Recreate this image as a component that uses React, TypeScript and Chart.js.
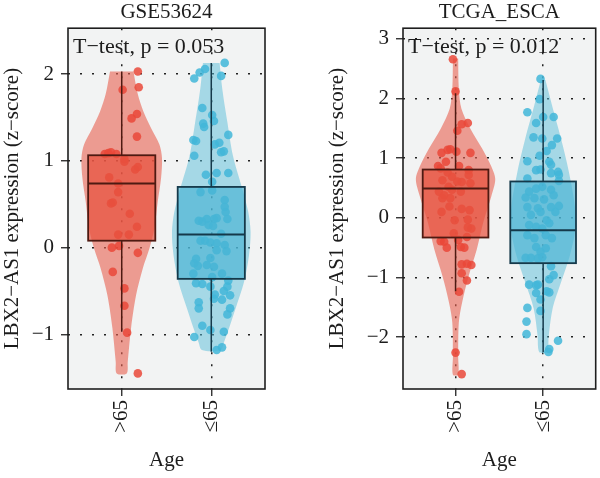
import { useEffect, useRef } from "react";
import { Chart, registerables } from "chart.js";

Chart.register(...registerables);

const FONT = '"Liberation Serif", "Times New Roman", serif';
const TEXT = "#1c1c1c";

// ---------- shared labels ----------
const groupLabels = [">65", "≤65"];
const yAxisTitle = "LBX2−AS1 expression (z−score)";
const xAxisTitle = "Age";

// ---------- GSE53624 ----------
const gseTitle = "GSE53624";
const gseTest = "T−test, p = 0.053";
const gseYTicks = [-1, 0, 1, 2];
const gseYRange = [-1.63, 2.53];

const gseOldValues = [2.03, 1.85, 1.82, 1.54, 1.49, 1.28, 1.08, 1.1, 1.08, 1.09, 1.02, 0.99, 0.93, 0.9, 0.81, 0.74, 0.64, 0.51, 0.52, 0.39, 0.24, 0.15, 0.15, 0.0, 0.02, -0.06, -0.28, -0.47, -0.67, -0.98, -1.45];
const gseOldJitter = [0.18, 0.19, 0.01, 0.17, 0.11, 0.17, -0.19, -0.12, -0.06, -0.15, 0.03, 0.03, 0.18, 0.15, -0.14, -0.04, -0.04, -0.12, -0.1, 0.09, 0.17, -0.04, 0.08, -0.11, -0.03, 0.18, -0.1, 0.03, 0.03, 0.06, 0.18];
const gseOldBox = [-0.97, 0.08, 0.74, 1.065, 2.03]; // whisker low, q1, median, q3, whisker high
const gseOldLevels = [2.03, 1.77, 1.57, 1.38, 1.19, 1.03, 0.8, 0.53, 0.22, -0.01, -0.24, -0.55, -0.93, -1.32, -1.45];
const gseOldHalfWidth = [0.131, 0.179, 0.242, 0.327, 0.421, 0.45, 0.439, 0.402, 0.365, 0.309, 0.235, 0.16, 0.104, 0.067, 0.056];

const gseYoungValues = [2.13, 2.02, 2.06, 1.95, 1.98, 1.61, 1.53, 1.46, 1.43, 1.39, 1.3, 1.24, 1.23, 1.21, 1.19, 1.11, 1.1, 1.06, 0.86, 0.86, 0.84, 0.76, 0.66, 0.64, 0.55, 0.47, 0.41, 0.33, 0.31, 0.3, 0.33, 0.33, 0.34, 0.25, 0.26, 0.16, 0.08, 0.08, 0.06, 0.05, 0.03, -0.03, -0.04, -0.13, -0.12, -0.18, -0.21, -0.2, -0.22, -0.3, -0.3, -0.34, -0.41, -0.42, -0.45, -0.38, -0.45, -0.54, -0.5, -0.55, -0.6, -0.59, -0.63, -0.7, -0.7, -0.77, -0.9, -0.95, -0.97, -1.03, -1.18, -1.15];
const gseYoungJitter = [0.15, -0.13, -0.07, -0.19, 0.11, -0.1, 0.01, 0.03, -0.09, -0.08, 0.19, -0.2, -0.17, 0.09, 0.04, 0.14, 0.11, -0.19, 0.19, 0.06, -0.06, 0.01, 0.01, -0.12, 0.15, 0.15, 0.16, 0.18, -0.14, -0.1, -0.05, 0.03, 0.06, 0.02, -0.03, 0.11, -0.12, -0.07, -0.01, 0.06, 0.15, 0.06, 0.17, -0.17, -0.01, -0.19, -0.15, -0.05, 0.03, -0.2, 0.12, 0.01, -0.17, -0.1, -0.01, 0.19, 0.18, 0.04, 0.14, 0.21, 0.12, 0.03, -0.14, -0.14, 0.21, 0.18, -0.1, -0.01, 0.14, -0.19, 0.06, 0.12];
const gseYoungBox = [-1.2, -0.36, 0.15, 0.7, 2.13];
const gseYoungLevels = [2.13, 1.83, 1.45, 1.06, 0.68, 0.41, 0.18, -0.09, -0.4, -0.7, -0.93, -1.09, -1.18];
const gseYoungHalfWidth = [0.093, 0.123, 0.179, 0.242, 0.346, 0.413, 0.439, 0.421, 0.365, 0.272, 0.198, 0.142, 0.104];

// ---------- TCGA_ESCA ----------
const tcgaTitle = "TCGA_ESCA";
const tcgaTest = "T−test, p = 0.012";
const tcgaYTicks = [-2, -1, 0, 1, 2, 3];
const tcgaYRange = [-2.87, 3.18];

const tcgaOldValues = [2.66, 2.12, 1.57, 1.59, 1.46, 1.09, 1.14, 1.15, 1.11, 1.09, 0.94, 0.87, 0.83, 0.87, 0.8, 0.76, 0.69, 0.72, 0.58, 0.63, 0.52, 0.61, 0.6, 0.44, 0.38, 0.47, 0.44, 0.33, 0.33, 0.19, 0.1, 0.15, 0.13, -0.04, -0.03, -0.16, -0.18, -0.26, -0.32, -0.39, -0.4, -0.37, -0.49, -0.5, -0.5, -0.78, -0.77, -0.79, -0.93, -1.05, -1.24, -2.26, -2.62];
const tcgaOldJitter = [-0.03, 0.0, 0.07, 0.14, 0.02, -0.16, -0.09, -0.06, 0.01, 0.17, -0.11, -0.2, -0.17, 0.04, 0.15, -0.09, -0.04, 0.15, 0.17, -0.15, -0.08, 0.02, 0.07, -0.19, -0.13, -0.04, 0.06, -0.15, -0.06, -0.07, -0.16, 0.07, 0.16, -0.01, 0.14, 0.14, 0.18, -0.02, 0.13, -0.17, -0.13, 0.03, 0.06, -0.1, 0.1, 0.07, 0.13, 0.18, 0.07, 0.13, 0.04, 0.0, 0.07];
const tcgaOldBox = [-1.23, -0.33, 0.49, 0.81, 2.09];
const tcgaOldLevels = [2.67, 2.17, 1.83, 1.5, 1.16, 0.88, 0.65, 0.37, -0.08, -0.53, -0.98, -1.42, -1.76, -2.32, -2.63];
const tcgaOldHalfWidth = [0.03, 0.037, 0.067, 0.168, 0.305, 0.402, 0.453, 0.41, 0.316, 0.242, 0.149, 0.075, 0.037, 0.03, 0.03];

const tcgaYoungValues = [2.33, 1.99, 1.77, 1.69, 1.69, 1.59, 1.33, 1.35, 1.33, 1.22, 1.12, 1.04, 0.95, 0.94, 0.89, 0.8, 0.81, 0.77, 0.75, 0.72, 0.66, 0.62, 0.44, 0.49, 0.52, 0.47, 0.34, 0.33, 0.31, 0.38, 0.18, 0.16, 0.18, 0.2, 0.05, 0.1, -0.04, 0.1, -0.12, -0.15, -0.18, -0.09, -0.29, -0.34, -0.29, -0.34, -0.49, -0.51, -0.57, -0.67, -0.67, -0.68, -0.66, -0.81, -0.96, -1.12, -1.12, -1.13, -1.03, -1.23, -1.25, -1.26, -1.51, -1.56, -1.37, -1.74, -1.95, -2.06, -2.2, -2.25];
const tcgaYoungJitter = [-0.03, -0.04, -0.18, 0.12, 0.0, -0.08, 0.16, -0.11, -0.01, 0.1, 0.04, -0.04, -0.18, 0.07, 0.09, -0.08, -0.03, 0.17, 0.09, 0.18, -0.18, 0.18, -0.16, -0.08, -0.01, 0.09, -0.2, -0.1, 0.01, 0.12, -0.18, -0.06, 0.09, 0.18, -0.14, -0.03, 0.04, 0.14, -0.16, -0.08, -0.01, 0.07, -0.18, -0.1, 0.03, 0.1, -0.08, 0.03, -0.03, -0.2, -0.14, -0.06, -0.01, 0.09, 0.12, -0.16, -0.06, -0.08, 0.07, 0.04, 0.07, -0.08, -0.18, -0.03, -0.03, -0.19, -0.19, 0.17, 0.07, 0.06];
const tcgaYoungBox = [-2.25, -0.76, -0.21, 0.61, 2.31];
const tcgaYoungLevels = [2.31, 1.89, 1.33, 0.77, 0.21, -0.18, -0.63, -1.08, -1.52, -1.97, -2.25];
const tcgaYoungHalfWidth = [0.026, 0.101, 0.204, 0.294, 0.361, 0.369, 0.305, 0.204, 0.108, 0.064, 0.045];

// ---------- styles ----------
const RED = {
  violin: "rgba(231, 96, 80, 0.6)",
  boxFill: "rgba(232, 82, 62, 0.72)",
  point: "rgba(234, 72, 56, 0.85)",
  line: "#4e1a12",
};
const BLUE = {
  violin: "rgba(88, 190, 218, 0.5)",
  boxFill: "rgba(72, 180, 212, 0.65)",
  point: "rgba(66, 182, 216, 0.85)",
  line: "#15394a",
};
const PANEL_BG = "#f2f3f3";
const BOX_HALF = 0.375;

type Group = {
  values: number[];
  jitter: number[];
  box: number[];
  levels: number[];
  halfWidth: number[];
  style: typeof RED;
};

type Panel = {
  title: string;
  test: string;
  yTicks: number[];
  yRange: number[];
  groups: Group[];
  yAxisWidth: number;
  yTitleGap: number;
  padRight: number;
};

const panels: Panel[] = [
  {
    title: gseTitle,
    test: gseTest,
    yTicks: gseYTicks,
    yRange: gseYRange,
    groups: [
      { values: gseOldValues, jitter: gseOldJitter, box: gseOldBox, levels: gseOldLevels, halfWidth: gseOldHalfWidth, style: RED },
      { values: gseYoungValues, jitter: gseYoungJitter, box: gseYoungBox, levels: gseYoungLevels, halfWidth: gseYoungHalfWidth, style: BLUE },
    ],
    yAxisWidth: 68,
    yTitleGap: 0,
    padRight: 35,
  },
  {
    title: tcgaTitle,
    test: tcgaTest,
    yTicks: tcgaYTicks,
    yRange: tcgaYRange,
    groups: [
      { values: tcgaOldValues, jitter: tcgaOldJitter, box: tcgaOldBox, levels: tcgaOldLevels, halfWidth: tcgaOldHalfWidth, style: RED },
      { values: tcgaYoungValues, jitter: tcgaYoungJitter, box: tcgaYoungBox, levels: tcgaYoungLevels, halfWidth: tcgaYoungHalfWidth, style: BLUE },
    ],
    yAxisWidth: 103,
    yTitleGap: 25,
    padRight: 1,
  },
];

// Closed violin outline: right side top-to-bottom, then left side bottom-to-top.
function violinOutline(center: number, levels: number[], halfWidth: number[]) {
  const right = levels.map((y, i) => ({ x: center + halfWidth[i], y }));
  const left = levels.map((y, i) => ({ x: center - halfWidth[i], y })).reverse();
  return [...right, ...left];
}

const minusLabel = (v: number) => (v < 0 ? "\u2212" + Math.abs(v) : String(v));

function buildChart(canvas: HTMLCanvasElement, panel: Panel) {
  const violins = panel.groups.map((g, i) => ({
    data: violinOutline(i + 1, g.levels, g.halfWidth),
    showLine: true,
    fill: "shape",
    tension: 0.3,
    backgroundColor: g.style.violin,
    borderColor: "rgba(0,0,0,0)",
    borderWidth: 0,
    pointRadius: 0,
    order: 3,
  }));
  const points = panel.groups.map((g, i) => ({
    data: g.values.map((v, k) => ({ x: i + 1 + g.jitter[k], y: v })),
    showLine: false,
    backgroundColor: g.style.point,
    borderColor: "rgba(0,0,0,0)",
    borderWidth: 0,
    pointRadius: 4.3,
    order: 1,
  }));

  const panelPlugin = {
    id: "panelDecor",
    beforeDraw(chart: any) {
      const { ctx, chartArea: a } = chart;
      ctx.save();
      ctx.fillStyle = PANEL_BG;
      ctx.fillRect(a.left, a.top, a.right - a.left, a.bottom - a.top);
      ctx.restore();
    },
    afterDatasetsDraw(chart: any) {
      const { ctx, scales } = chart;
      const xs = scales.x;
      const ys = scales.y;
      panel.groups.forEach((g, i) => {
        const c = i + 1;
        const [lo, q1, med, q3, hi] = g.box;
        const xc = xs.getPixelForValue(c);
        const xl = xs.getPixelForValue(c - BOX_HALF);
        const xr = xs.getPixelForValue(c + BOX_HALF);
        const yHi = ys.getPixelForValue(hi);
        const yQ3 = ys.getPixelForValue(q3);
        const yMed = ys.getPixelForValue(med);
        const yQ1 = ys.getPixelForValue(q1);
        const yLo = ys.getPixelForValue(lo);
        ctx.save();
        ctx.strokeStyle = g.style.line;
        ctx.lineWidth = 1.5;
        ctx.beginPath();
        ctx.moveTo(xc, yHi);
        ctx.lineTo(xc, yQ3);
        ctx.moveTo(xc, yQ1);
        ctx.lineTo(xc, yLo);
        ctx.stroke();
        ctx.fillStyle = g.style.boxFill;
        ctx.fillRect(xl, yQ3, xr - xl, yQ1 - yQ3);
        ctx.lineWidth = 1.8;
        ctx.strokeRect(xl, yQ3, xr - xl, yQ1 - yQ3);
        ctx.lineWidth = 2;
        ctx.beginPath();
        ctx.moveTo(xl, yMed);
        ctx.lineTo(xr, yMed);
        ctx.stroke();
        ctx.restore();
      });
    },
    afterDraw(chart: any) {
      const { ctx, chartArea: a } = chart;
      ctx.save();
      ctx.strokeStyle = "#1e1e1e";
      ctx.lineWidth = 1.6;
      ctx.strokeRect(a.left, a.top, a.right - a.left, a.bottom - a.top);
      ctx.fillStyle = TEXT;
      ctx.font = `22px ${FONT}`;
      ctx.textAlign = "left";
      ctx.textBaseline = "alphabetic";
      ctx.fillText(panel.test, a.left + 5, a.top + 25);
      ctx.restore();
    },
  };

  const gridOpts = {
    color: "#222",
    lineWidth: 1.5,
    drawTicks: true,
    tickLength: 7,
    tickColor: "#222",
    tickWidth: 1.3,
    tickBorderDash: [],
  };
  const borderOpts = { display: false, dash: [2, 10] };

  return new Chart(canvas, {
    type: "scatter",
    data: { datasets: [...violins, ...points] as any },
    plugins: [panelPlugin],
    options: {
      responsive: false,
      animation: false,
      devicePixelRatio: 1,
      events: [],
      layout: { padding: { left: 0, right: panel.padRight, top: 0, bottom: 0 } },
      plugins: {
        legend: { display: false },
        tooltip: { enabled: false },
        title: {
          display: true,
          text: panel.title,
          fullSize: false,
          color: TEXT,
          font: { family: FONT, size: 21, weight: "normal" },
          padding: { top: 0, bottom: 3 },
        },
      },
      scales: {
        x: {
          type: "linear",
          min: 0.4,
          max: 2.6,
          afterBuildTicks: (s: any) => {
            s.ticks = groupLabels.map((_, i) => ({ value: i + 1 }));
          },
          afterFit: (s: any) => {
            s.height = 89;
          },
          ticks: {
            autoSkip: false,
            minRotation: 90,
            maxRotation: 90,
            padding: 4,
            color: TEXT,
            font: { family: FONT, size: 21 },
            callback: (v: any) => groupLabels[Math.round(Number(v)) - 1] ?? "",
          },
          grid: gridOpts,
          border: borderOpts,
          title: {
            display: true,
            text: xAxisTitle,
            color: TEXT,
            font: { family: FONT, size: 21 },
            padding: { top: 0, bottom: 5 },
          },
        },
        y: {
          type: "linear",
          min: panel.yRange[0],
          max: panel.yRange[1],
          afterBuildTicks: (s: any) => {
            s.ticks = panel.yTicks.map((v) => ({ value: v }));
          },
          afterFit: (s: any) => {
            s.width = panel.yAxisWidth;
          },
          ticks: {
            padding: 7,
            color: TEXT,
            font: { family: FONT, size: 21 },
            callback: (v: any) => minusLabel(Number(v)),
          },
          grid: gridOpts,
          border: borderOpts,
          title: {
            display: true,
            text: yAxisTitle,
            color: TEXT,
            font: { family: FONT, size: 21 },
            padding: { top: panel.yTitleGap, bottom: 0 },
          },
        },
      },
    } as any,
  });
}

function PanelChart({ panel, left }: { panel: Panel; left: number }) {
  const ref = useRef<HTMLCanvasElement>(null);
  useEffect(() => {
    if (!ref.current) return;
    const chart = buildChart(ref.current, panel);
    return () => chart.destroy();
  }, [panel]);
  return (
    <canvas
      ref={ref}
      width={300}
      height={478}
      style={{ position: "absolute", left, top: 0, width: 300, height: 478, display: "block" }}
    />
  );
}

export default function App() {
  return (
    <div style={{ position: "absolute", left: 0, top: 0, width: 600, height: 478, background: "#fff", overflow: "hidden" }}>
      <PanelChart panel={panels[0]} left={0} />
      <PanelChart panel={panels[1]} left={300} />
    </div>
  );
}
